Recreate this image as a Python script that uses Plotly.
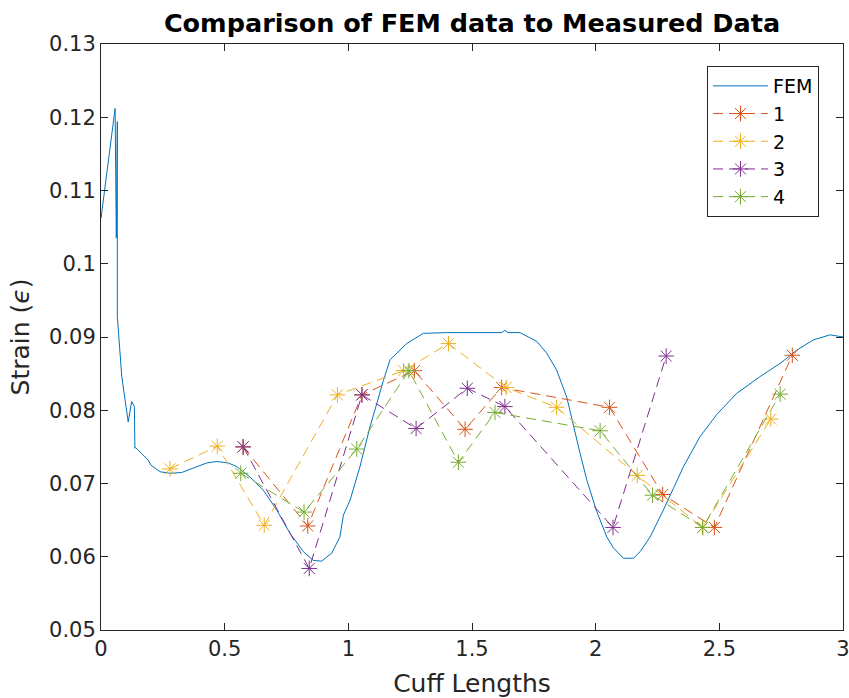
import plotly.graph_objects as go

# FEM curve
fem_x = [0.0, 0.057, 0.062, 0.066, 0.066, 0.084, 0.110, 0.124, 0.135, 0.137, 0.140, 0.191, 0.202,
         0.239, 0.279, 0.326, 0.373, 0.427, 0.468, 0.515, 0.549, 0.602, 0.656, 0.710, 0.764,
         0.818, 0.859, 0.892, 0.933, 0.966, 0.980, 1.007, 1.047, 1.088, 1.115, 1.142, 1.169,
         1.209, 1.236, 1.303, 1.398, 1.533, 1.620, 1.633, 1.645, 1.694, 1.762, 1.802, 1.842,
         1.883, 1.910, 1.937, 1.964, 2.004, 2.045, 2.072, 2.112, 2.153, 2.180, 2.220, 2.274,
         2.355, 2.422, 2.489, 2.570, 2.665, 2.746, 2.813, 2.880, 2.948, 3.0]
fem_y = [0.1062, 0.1212, 0.1035, 0.1194, 0.0928, 0.0846, 0.0784, 0.0812, 0.0805, 0.0748, 0.0749,
         0.0732, 0.0725, 0.0716, 0.0714, 0.0715, 0.0721, 0.0728, 0.0730, 0.0728, 0.0723, 0.0709,
         0.0691, 0.0664, 0.0632, 0.0607, 0.0595, 0.0594, 0.0605, 0.0627, 0.0657, 0.0677, 0.0723,
         0.0778, 0.0809, 0.0841, 0.0869, 0.0882, 0.0891, 0.0905, 0.0906, 0.0906, 0.0906, 0.0909,
         0.0906, 0.0906, 0.0894, 0.0878, 0.0855, 0.0818, 0.0778, 0.0741, 0.0705, 0.0662, 0.0627,
         0.0612, 0.0598, 0.0598, 0.0607, 0.0627, 0.0664, 0.0723, 0.0764, 0.0794, 0.0823, 0.0846,
         0.0864, 0.0882, 0.0896, 0.0903, 0.0900]

s1_x = [0.574, 0.836, 1.055, 1.267, 1.472, 1.620, 2.056, 2.271, 2.480, 2.795]
s1_y = [0.0750, 0.0642, 0.0821, 0.0854, 0.0774, 0.0831, 0.0804, 0.0685, 0.0640, 0.0875]

s2_x = [0.279, 0.470, 0.660, 0.956, 1.223, 1.405, 1.638, 1.842, 2.168, 2.433, 2.708]
s2_y = [0.0720, 0.0751, 0.0643, 0.0821, 0.0854, 0.0891, 0.0831, 0.0804, 0.0711, 0.0640, 0.0788]

s3_x = [0.575, 0.842, 1.055, 1.274, 1.481, 1.633, 2.070, 2.285]
s3_y = [0.0750, 0.0584, 0.0821, 0.0775, 0.0830, 0.0805, 0.0640, 0.0874]

s4_x = [0.565, 0.821, 1.034, 1.245, 1.445, 1.593, 2.018, 2.230, 2.433, 2.746]
s4_y = [0.0714, 0.0661, 0.0747, 0.0854, 0.0729, 0.0797, 0.0772, 0.0684, 0.0640, 0.0822]

names = ["1", "2", "3", "4"]
colors = ["#D95319", "#EDB120", "#7E2F8E", "#77AC30"]
series = [(s1_x, s1_y), (s2_x, s2_y), (s3_x, s3_y), (s4_x, s4_y)]

x_ticks = [0, 0.5, 1, 1.5, 2, 2.5, 3]
y_ticks = [0.05, 0.06, 0.07, 0.08, 0.09, 0.1, 0.11, 0.12, 0.13]

FONT = "DejaVu Sans"
fig = go.Figure()
fig.add_trace(go.Scatter(x=fem_x, y=fem_y, mode="lines", name="FEM",
                         line=dict(color="#0072BD", width=1)))
for (sx, sy), n, c in zip(series, names, colors):
    fig.add_trace(go.Scatter(x=sx, y=sy, mode="lines+markers", name=n,
                             line=dict(color=c, width=1, dash="10px,6px"),
                             marker=dict(symbol="asterisk-open", size=13,
                                         line=dict(color=c, width=1), color=c)))

axis_common = dict(showline=True, linecolor="#262626", linewidth=1, mirror="ticks",
                   ticks="inside", ticklen=7, tickcolor="#262626", showgrid=False,
                   zeroline=False, automargin=False, ticklabeloverflow="allow",
                   tickfont=dict(family=FONT, size=21, color="#262626"))

fig.update_layout(
    width=849, height=698,
    margin=dict(l=101, r=6, t=44, b=68),
    paper_bgcolor="white", plot_bgcolor="white",
    title=dict(text="<b>Comparison of FEM data to Measured Data</b>", x=(101 + 843) / 2 / 849,
               xanchor="center", y=1 - 23 / 698, yanchor="middle",
               font=dict(family=FONT, size=25.5, color="black")),
    xaxis=dict(range=[0, 3], tickvals=x_ticks, ticktext=[f"{v:g}" for v in x_ticks],
               title=dict(text="Cuff Lengths", font=dict(family=FONT, size=25, color="#262626"),
                          standoff=14),
               **axis_common),
    yaxis=dict(range=[0.05, 0.13], tickvals=y_ticks, ticktext=[f"{v:g}" for v in y_ticks],
               title=dict(text="Strain (<i>ϵ</i>)", font=dict(family=FONT, size=25, color="#262626"),
                          standoff=12),
               **axis_common),
    legend=dict(x=(707 - 101) / 742, y=1 - (66 - 44) / 586, xanchor="left", yanchor="top",
                bordercolor="#262626", borderwidth=1, bgcolor="white", itemwidth=55,
                font=dict(family=FONT, size=19, color="black"), tracegroupgap=0),
    showlegend=True,
)

fig.write_html("out.html")
